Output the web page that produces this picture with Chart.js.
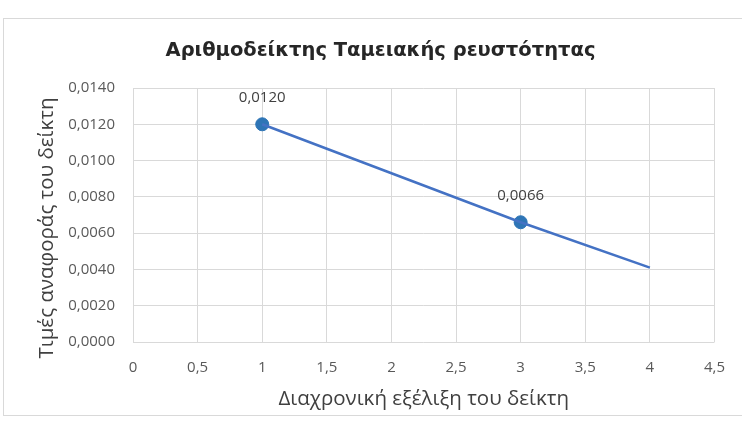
<!DOCTYPE html>
<html>
<head>
<meta charset="utf-8">
<script src="https://cdn.jsdelivr.net/npm/chart.js@4"></script>
<style>
  html, body { margin: 0; padding: 0; background: #ffffff; }
  #wrap { width: 742px; height: 426px; position: relative; }
</style>
</head>
<body>
<div id="wrap"><canvas id="c" width="742" height="426"></canvas></div>
<script>
// ---- data ----
const titleText = 'Αριθμοδείκτης Ταμειακής ρευστότητας';
const xAxisTitle = 'Διαχρονική εξέλιξη του δείκτη';
const yAxisTitle = 'Τιμές αναφοράς του δείκτη';
const pointX = [1, 3];
const pointY = [0.0120, 0.0066];
const pointLabels = ['0,0120', '0,0066'];
const trendX = [1, 3, 4];
const trendY = [0.0120, 0.0066, 0.0041];
const xMin = 0, xMax = 4.5, xStep = 0.5;
const yMin = 0, yMax = 0.014, yStep = 0.002;

const pointData = pointX.map((x, i) => ({ x: x, y: pointY[i] }));
const trendData = trendX.map((x, i) => ({ x: x, y: trendY[i] }));

const frame = {
  id: 'frame',
  beforeDraw(chart) {
    const ctx = chart.ctx;
    ctx.save();
    ctx.fillStyle = '#ffffff';
    ctx.fillRect(0, 0, chart.width, chart.height);
    ctx.strokeStyle = '#d9d9d9';
    ctx.lineWidth = 1;
    ctx.strokeRect(3.5, 18.5, 745, 397);
    ctx.restore();
  },
  afterDraw(chart) {
    const ctx = chart.ctx;
    ctx.save();
    ctx.translate(47, 228);
    ctx.rotate(-Math.PI / 2);
    ctx.font = '20.5px "Open Sans"';
    ctx.fillStyle = '#404040';
    ctx.textAlign = 'center';
    ctx.textBaseline = 'middle';
    ctx.fillText(yAxisTitle, 0, 0);
    ctx.restore();
  }
};

const labelsPlugin = {
  id: 'pointLabels',
  afterDatasetsDraw(chart) {
    const meta = chart.getDatasetMeta(1);
    const ctx = chart.ctx;
    ctx.save();
    ctx.font = '15px "Open Sans"';
    ctx.fillStyle = '#404040';
    ctx.textAlign = 'center';
    ctx.textBaseline = 'middle';
    meta.data.forEach((el, i) => {
      ctx.fillText(pointLabels[i], el.x, el.y - 27);
    });
    ctx.restore();
  }
};

new Chart(document.getElementById('c'), {
  type: 'scatter',
  data: {
    datasets: [
      {
        type: 'line',
        data: trendData,
        borderColor: '#4472C4',
        borderWidth: 2.5,
        pointRadius: 0,
        fill: false,
        tension: 0
      },
      {
        data: pointData,
        backgroundColor: '#2E75B6',
        borderColor: '#2E75B6',
        pointRadius: 6.5,
        pointHoverRadius: 6.5
      }
    ]
  },
  plugins: [frame, labelsPlugin],
  options: {
    responsive: false,
    animation: false,
    events: [],
    layout: { padding: { left: 43, right: 24, top: 0, bottom: 5 } },
    plugins: {
      legend: { display: false },
      tooltip: { enabled: false },
      title: {
        display: true,
        text: titleText,
        color: '#262626',
        font: { family: '"DejaVu Sans"', size: 19.5, weight: 'bold' },
        padding: { top: 39, bottom: 25.6 }
      }
    },
    scales: {
      x: {
        type: 'linear',
        min: xMin, max: xMax,
        afterBuildTicks(scale) {
          const t = [];
          for (let v = xMin; v <= xMax + 1e-9; v += xStep) t.push({ value: Math.round(v * 10) / 10 });
          scale.ticks = t;
        },
        afterFit(scale) { scale.height = 79; },
        grid: { color: '#d9d9d9', drawTicks: false, lineWidth: 1 },
        border: { display: false },
        ticks: {
          padding: 17,
          color: '#595959',
          font: { family: '"Open Sans"', size: 15 },
          callback: v => String(v).replace('.', ',')
        },
        title: {
          display: true,
          text: xAxisTitle,
          color: '#404040',
          font: { family: '"Open Sans"', size: 20.5 },
          padding: { top: 10, bottom: 10 }
        }
      },
      y: {
        type: 'linear',
        min: yMin, max: yMax,
        afterBuildTicks(scale) {
          const t = [];
          for (let i = 0; i <= Math.round((yMax - yMin) / yStep); i++) t.push({ value: yMin + i * yStep });
          scale.ticks = t;
        },
        afterFit(scale) { scale.width = 90; },
        grid: { color: '#d9d9d9', drawTicks: false, lineWidth: 1 },
        border: { display: false },
        ticks: {
          padding: 18,
          color: '#595959',
          font: { family: '"Open Sans"', size: 15 },
          callback: v => Number(v).toFixed(4).replace('.', ',')
        },
        title: { display: false }
      }
    }
  }
});
</script>
</body>
</html>
